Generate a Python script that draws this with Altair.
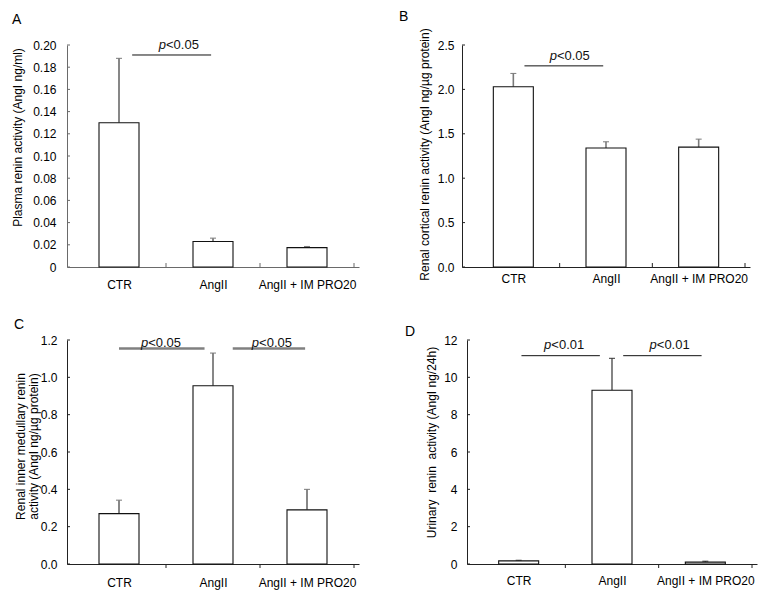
import altair as alt
import pandas as pd

FONT = "Liberation Sans"

categories = ["CTR", "AngII", "AngII + IM PRO20"]
positions = [0.5, 1.5, 2.5]
boundaries = [1, 2, 3]

# Panel A: plasma renin activity
a_mean = [0.130, 0.023, 0.0175]
a_upper = [0.188, 0.026, 0.0185]
a_ticks = [0, 0.02, 0.04, 0.06, 0.08, 0.10, 0.12, 0.14, 0.16, 0.18, 0.20]
a_sig_x1 = [0.64]
a_sig_x2 = [1.48]
a_sig_y = [0.191]
a_sig_tx = [1.00]
a_sig_lab = ["<0.05"]

# Panel B: renal cortical renin activity
b_mean = [2.03, 1.34, 1.35]
b_upper = [2.18, 1.41, 1.44]
b_ticks = [0, 0.5, 1.0, 1.5, 2.0, 2.5]
b_sig_x1 = [0.62]
b_sig_x2 = [1.47]
b_sig_y = [2.265]
b_sig_tx = [0.97]
b_sig_lab = ["<0.05"]

# Panel C: renal inner medullary renin activity
c_mean = [0.27, 0.955, 0.29]
c_upper = [0.342, 1.13, 0.40]
c_ticks = [0, 0.2, 0.4, 0.6, 0.8, 1.0, 1.2]
c_sig_x1 = [0.50, 1.71]
c_sig_x2 = [1.41, 2.48]
c_sig_y = [1.154, 1.154]
c_sig_tx = [0.81, 1.99]
c_sig_lab = ["<0.05", "<0.05"]

# Panel D: urinary renin activity
d_mean = [0.17, 9.31, 0.10]
d_upper = [0.20, 11.02, 0.15]
d_ticks = [0, 2, 4, 6, 8, 10, 12]
d_sig_x1 = [0.53, 1.62]
d_sig_x2 = [1.37, 2.46]
d_sig_y = [11.16, 11.16]
d_sig_tx = [0.85, 1.98]
d_sig_lab = ["<0.01", "<0.01"]

cat_expr = " : ".join(
    f"datum.value == {p} ? '{c}'" for p, c in zip(positions, categories)
) + " : ''"


def panel(letter, means, uppers, ticks, ymax, fmt, title, sig, w, h, s):
    df = pd.DataFrame({"pos": positions, "cat": categories, "mean": means, "upper": uppers})
    x_axis = alt.Axis(
        values=positions, labelExpr=cat_expr, ticks=False, tickSize=0, grid=False, title=None,
        labelFont=FONT, labelFontSize=12, labelColor="black", labelPadding=s["xpad"],
        labelFlush=False, labelOverlap=False, labelBound=False, labelAngle=0,
        domainColor=s["axis"], domainWidth=1,
    )
    y_axis = alt.Axis(
        values=ticks, labelExpr=fmt, ticks=False, tickSize=0, grid=False, title=title,
        labelFont=FONT, labelFontSize=12, labelColor="black", labelPadding=s["ypad"],
        labelOverlap=False, labelFlush=False,
        domainColor=s["axis"], domainWidth=1,
        titleFont=FONT, titleFontSize=12, titleFontWeight="normal", titleColor="black",
        titleX=s["tx"], titleY=s["ty"], titleAlign="center", titleBaseline="middle",
        titleLineHeight=13,
    )
    xs = alt.Scale(domain=[0, 3], nice=False, zero=False)
    ys = alt.Scale(domain=[0, ymax], nice=False)

    def X(f):
        return alt.X(f, scale=xs, axis=x_axis)

    def Y(f):
        return alt.Y(f, scale=ys, axis=y_axis)

    err = alt.Chart(df).mark_rule(color=s["err"], strokeWidth=s["errw"]).encode(
        x=X("pos:Q"), y=Y("mean:Q"), y2="upper:Q",
    )
    cap = alt.Chart(df).mark_tick(orient="horizontal", size=6, thickness=1, color=s["err"], opacity=1).encode(
        x=X("pos:Q"), y=Y("upper:Q")
    )
    bars = alt.Chart(df).mark_bar(orient="vertical", size=40, fill="white", stroke="#111", strokeWidth=1.1).encode(
        x=X("pos:Q"), y=Y("mean:Q")
    )
    ytk = alt.Chart(pd.DataFrame({"v": ticks})).mark_rule(color=s["axis"]).encode(
        y=Y("v:Q"), x=alt.value(0), x2=alt.value(3)
    )
    xtk = alt.Chart(pd.DataFrame({"b": boundaries})).mark_rule(color=s["axis"]).encode(
        x=X("b:Q"), y=alt.value(h), y2=alt.value(h + s["xtick"])
    )
    sdf = pd.DataFrame({"x1": sig[0], "x2": sig[1], "y": sig[2], "tx": sig[3], "lab": sig[4],
                        "p": ["p"] * len(sig[0])})
    sline = alt.Chart(sdf).mark_rule(color=s["sigc"], strokeWidth=s["sigw"]).encode(
        x=X("x1:Q"), x2="x2:Q", y=Y("y:Q")
    )
    ptxt = alt.Chart(sdf).mark_text(align="right", baseline="alphabetic", fontStyle="italic",
                                    font=FONT, fontSize=13, dy=s["pdy"], color="#111").encode(
        x=X("tx:Q"), y=Y("y:Q"), text="p:N"
    )
    ltxt = alt.Chart(sdf).mark_text(align="left", baseline="alphabetic",
                                    font=FONT, fontSize=13, dy=s["pdy"], color="#111").encode(
        x=X("tx:Q"), y=Y("y:Q"), text="lab:N"
    )
    let = alt.Chart(pd.DataFrame({"t": [letter]})).mark_text(
        align="left", baseline="alphabetic", font=FONT, fontSize=14, color="black"
    ).encode(x=alt.value(s["lx"]), y=alt.value(s["ly"]), text="t:N")

    return alt.layer(err, cap, bars, ytk, xtk, sline, ptxt, ltxt, let).properties(width=w, height=h)


fmt2 = "datum.value == 0 ? '0' : format(datum.value, '.2f')"
fmt1 = "format(datum.value, '.1f')"
fmt0 = "format(datum.value, 'd')"

A = panel("A", a_mean, a_upper, a_ticks, 0.20, fmt2, "Plasma renin activity (AngI ng/ml)",
          (a_sig_x1, a_sig_x2, a_sig_y, a_sig_tx, a_sig_lab), 292, 222,
          dict(xpad=12, ypad=11, axis="#6a6a6a", err="#7a7a7a", errw=1.8, tx=-50, ty=92,
               xtick=-4, sigc="#111", sigw=1, pdy=-6, lx=-55, ly=-21))
B = panel("B", b_mean, b_upper, b_ticks, 2.5, fmt1, "Renal cortical renin activity (AngI ng/µg protein)",
          (b_sig_x1, b_sig_x2, b_sig_y, b_sig_tx, b_sig_lab), 288, 222,
          dict(xpad=6, ypad=8, axis="#222", err="#7a7a7a", errw=1.6, tx=-38, ty=109,
               xtick=-4, sigc="#111", sigw=1, pdy=-6, lx=-63, ly=-24))
C = panel("C", c_mean, c_upper, c_ticks, 1.2, fmt1,
          ["Renal inner medullary renin", "activity (AngI ng/µg protein)"],
          (c_sig_x1, c_sig_x2, c_sig_y, c_sig_tx, c_sig_lab), 292, 224,
          dict(xpad=13, ypad=10, axis="#222", err="#7a7a7a", errw=1.8, tx=-47, ty=106,
               xtick=4, sigc="#808080", sigw=2.5, pdy=-1.5, lx=-53, ly=-11))
D = panel("D", d_mean, d_upper, d_ticks, 12, fmt0, "Urinary\u00a0 renin\u00a0 activity (AngI ng/24h)",
          (d_sig_x1, d_sig_x2, d_sig_y, d_sig_tx, d_sig_lab), 290, 224,
          dict(xpad=11, ypad=10, axis="#222", err="#333", errw=1.2, tx=-36, ty=102,
               xtick=4, sigc="#111", sigw=1, pdy=-7, lx=-62, ly=-4))

row1 = alt.hconcat(A, B, spacing=103, bounds="flush")
row2 = alt.hconcat(C, D, spacing=108, bounds="flush")
chart = alt.vconcat(row1, row2, spacing=28).properties(
    padding=2, background="white"
).configure_view(stroke=None)

chart.save("out.html", embed_options={"renderer": "svg", "actions": False})
